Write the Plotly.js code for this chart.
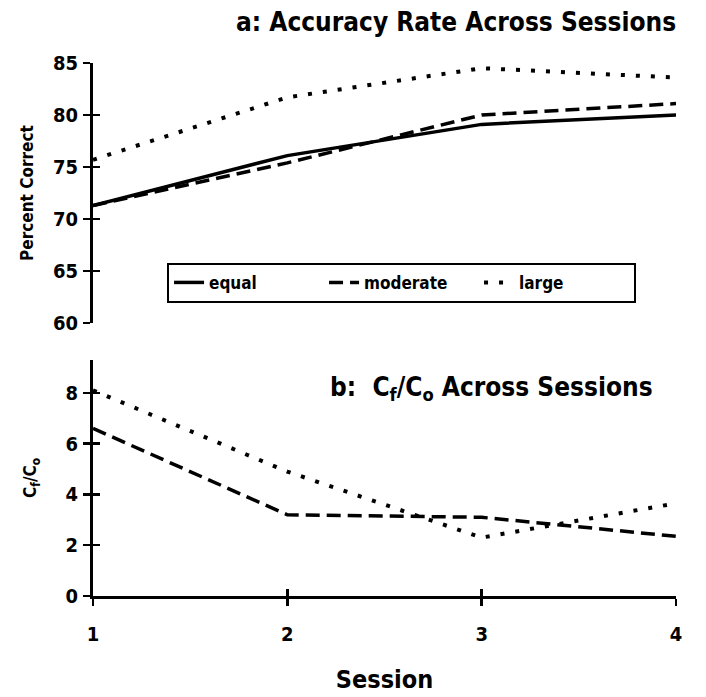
<!DOCTYPE html>
<html>
<head>
<meta charset="utf-8">
<script src="https://cdn.plot.ly/plotly-3.0.1.min.js"></script>
<style>html,body{margin:0;padding:0;background:#fff}#chart{width:706px;height:697px}</style>
</head>
<body>
<div id="chart"></div>
<script>
const sessions = [1, 2, 3, 4];
const seriesNames = ["equal", "moderate", "large"];
const accEqual = [71.3, 76.1, 79.1, 80.0];
const accModerate = [71.3, 75.4, 80.0, 81.1];
const accLarge = [75.7, 81.7, 84.5, 83.6];
const cfcoModerate = [6.6, 3.2, 3.1, 2.35];
const cfcoLarge = [8.1, 4.9, 2.3, 3.65];
const accTicks = [60, 65, 70, 75, 80, 85];
const cfcoTicks = [0, 2, 4, 6, 8];

const FONT = "DejaVu Sans Condensed, Liberation Sans Narrow, Arial Narrow, sans-serif";
const styles = {
  equal: {color: "#000", width: 3.5, dash: "solid"},
  moderate: {color: "#000", width: 3.5, dash: "14px,7px"},
  large: {color: "#000", width: 4, dash: "4px,11px"}
};

const traces = [
  {x: sessions, y: accEqual, name: seriesNames[0], mode: "lines", line: styles.equal, xaxis: "x", yaxis: "y"},
  {x: sessions, y: accModerate, name: seriesNames[1], mode: "lines", line: styles.moderate, xaxis: "x", yaxis: "y"},
  {x: sessions, y: accLarge, name: seriesNames[2], mode: "lines", line: styles.large, xaxis: "x", yaxis: "y"},
  {x: sessions, y: cfcoModerate, name: seriesNames[1], mode: "lines", line: styles.moderate, xaxis: "x", yaxis: "y2", showlegend: false},
  {x: sessions, y: cfcoLarge, name: seriesNames[2], mode: "lines", line: styles.large, xaxis: "x", yaxis: "y2", showlegend: false},
  {x: [], y: [], xaxis: "x", yaxis: "y3", showlegend: false, hoverinfo: "skip"},
  {x: [], y: [], xaxis: "x", yaxis: "y4", showlegend: false, hoverinfo: "skip"},
  {x: [], y: [], xaxis: "x3", yaxis: "y2", showlegend: false, hoverinfo: "skip"}
];

const tickFont = {family: FONT, size: 20, color: "#000", weight: "bold"};
const yTop = [0.512, 1.0];
const yBot = [0.0, 0.443];

const layout = {
  width: 706, height: 697,
  margin: {l: 93, r: 30, t: 63, b: 101},
  paper_bgcolor: "#fff", plot_bgcolor: "#fff",
  font: {family: FONT, color: "#000"},
  title: {
    text: "a: Accuracy Rate Across Sessions",
    font: {family: FONT, size: 26, color: "#000", weight: "bold"},
    x: 0.646, xanchor: "center", xref: "container",
    y: 0.969, yanchor: "middle", yref: "container"
  },
  showlegend: true,
  legend: {
    orientation: "h",
    x: 0.127, xanchor: "left", xref: "paper",
    y: 0.625, yanchor: "top", yref: "paper",
    bordercolor: "#000", borderwidth: 2, bgcolor: "#fff",
    font: {family: FONT, size: 17, color: "#000", weight: "bold"},
    entrywidth: 110, entrywidthmode: "pixels", tracegroupgap: 0
  },
  xaxis: {
    domain: [0, 1], range: [1, 4], anchor: "y2",
    tickmode: "array", tickvals: sessions, ticktext: sessions.map(String),
    ticks: "outside", ticklen: 7, tickwidth: 2.5, tickcolor: "#000",
    showline: true, linecolor: "#000", linewidth: 3,
    showgrid: false, zeroline: false,
    tickfont: tickFont, ticklabelstandoff: 11,
    title: {text: "Session", font: {family: FONT, size: 25, color: "#000", weight: "bold"}, standoff: 26}
  },
  xaxis3: {
    domain: [0, 1], range: [1, 4], anchor: "y2", overlaying: "x",
    tickmode: "array", tickvals: sessions,
    ticks: "inside", ticklen: 7, tickwidth: 2.5, tickcolor: "#000",
    showticklabels: false, showline: false, showgrid: false, zeroline: false
  },
  yaxis: {
    domain: yTop, range: [60, 85], anchor: "x",
    tickmode: "array", tickvals: accTicks, ticktext: accTicks.map(String),
    ticks: "outside", ticklen: 7, tickwidth: 2.5, tickcolor: "#000",
    showline: true, linecolor: "#000", linewidth: 3,
    showgrid: false, zeroline: false, tickfont: tickFont, ticklabelstandoff: 1,
    title: {text: "Percent Correct", font: {family: FONT, size: 17, color: "#000", weight: "bold"}, standoff: 15}
  },
  yaxis3: {
    domain: yTop, range: [60, 85], anchor: "x", overlaying: "y",
    tickmode: "array", tickvals: accTicks,
    ticks: "inside", ticklen: 7, tickwidth: 2.5, tickcolor: "#000",
    showticklabels: false, showline: false, showgrid: false, zeroline: false
  },
  yaxis2: {
    domain: yBot, range: [0, 9.3], anchor: "x",
    tickmode: "array", tickvals: cfcoTicks, ticktext: cfcoTicks.map(String),
    ticks: "outside", ticklen: 7, tickwidth: 2.5, tickcolor: "#000",
    showline: true, linecolor: "#000", linewidth: 3,
    showgrid: false, zeroline: false, tickfont: tickFont, ticklabelstandoff: 1,
    title: {text: "C<sub>f</sub>/C<sub>o</sub>", font: {family: FONT, size: 17, color: "#000", weight: "bold"}, standoff: 25}
  },
  yaxis4: {
    domain: yBot, range: [0, 9.3], anchor: "x", overlaying: "y2",
    tickmode: "array", tickvals: cfcoTicks,
    ticks: "inside", ticklen: 7, tickwidth: 2.5, tickcolor: "#000",
    showticklabels: false, showline: false, showgrid: false, zeroline: false
  },
  annotations: [{
    text: "b:  C<sub>f</sub>/C<sub>o</sub> Across Sessions",
    xref: "paper", yref: "paper", x: 0.964, xanchor: "right", y: 0.39, yanchor: "middle",
    showarrow: false, font: {family: FONT, size: 26, color: "#000", weight: "bold"}
  }]
};

Plotly.newPlot("chart", traces, layout, {displayModeBar: false, staticPlot: true});
</script>
</body>
</html>
